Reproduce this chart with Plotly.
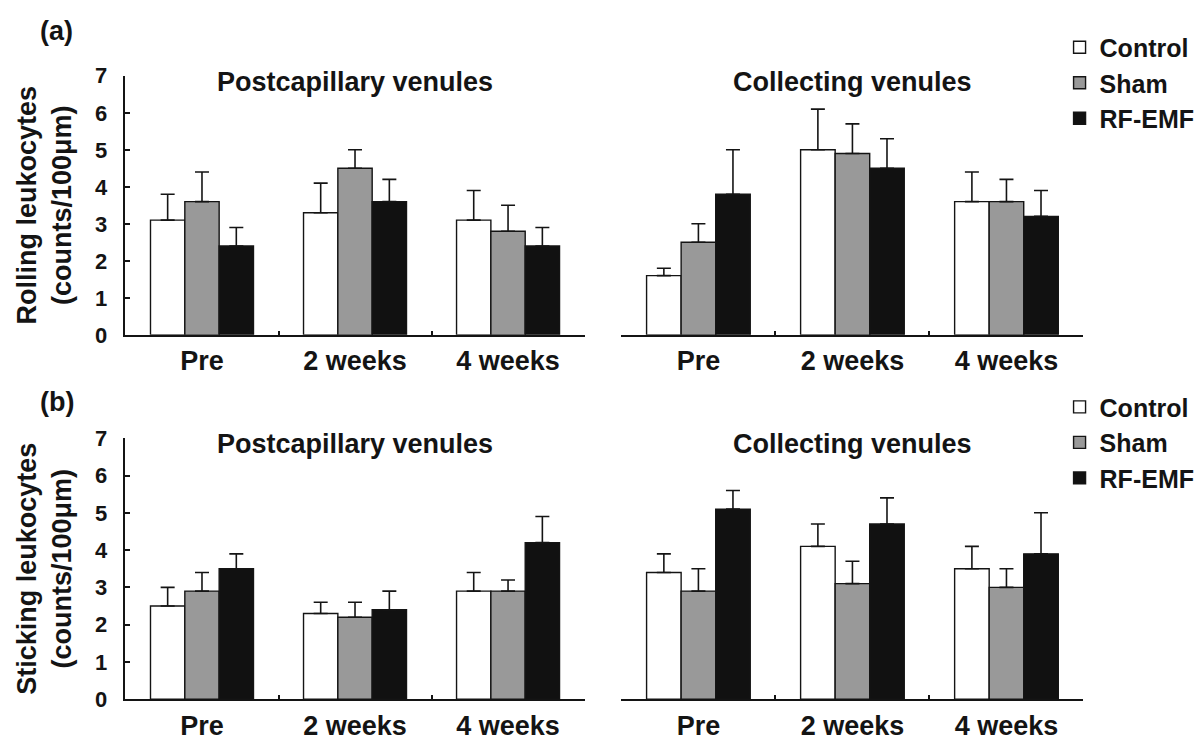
import plotly.graph_objects as go

# Time points and groups
periods = ["Pre", "2 weeks", "4 weeks"]
groups = ["Control", "Sham", "RF-EMF"]

# (a) Rolling leukocytes, postcapillary venules
roll_post_control = [3.1, 3.3, 3.1]
roll_post_control_sd = [0.7, 0.8, 0.8]
roll_post_sham = [3.6, 4.5, 2.8]
roll_post_sham_sd = [0.8, 0.5, 0.7]
roll_post_rf = [2.4, 3.6, 2.4]
roll_post_rf_sd = [0.5, 0.6, 0.5]

# (a) Rolling leukocytes, collecting venules
roll_coll_control = [1.6, 5.0, 3.6]
roll_coll_control_sd = [0.2, 1.1, 0.8]
roll_coll_sham = [2.5, 4.9, 3.6]
roll_coll_sham_sd = [0.5, 0.8, 0.6]
roll_coll_rf = [3.8, 4.5, 3.2]
roll_coll_rf_sd = [1.2, 0.8, 0.7]

# (b) Sticking leukocytes, postcapillary venules
stick_post_control = [2.5, 2.3, 2.9]
stick_post_control_sd = [0.5, 0.3, 0.5]
stick_post_sham = [2.9, 2.2, 2.9]
stick_post_sham_sd = [0.5, 0.4, 0.3]
stick_post_rf = [3.5, 2.4, 4.2]
stick_post_rf_sd = [0.4, 0.5, 0.7]

# (b) Sticking leukocytes, collecting venules
stick_coll_control = [3.4, 4.1, 3.5]
stick_coll_control_sd = [0.5, 0.6, 0.6]
stick_coll_sham = [2.9, 3.1, 3.0]
stick_coll_sham_sd = [0.6, 0.6, 0.5]
stick_coll_rf = [5.1, 4.7, 3.9]
stick_coll_rf_sd = [0.5, 0.7, 1.1]

y_ticks = [0, 1, 2, 3, 4, 5, 6, 7]

W, H = 1200, 748
FONT = "Liberation Sans, Arial, sans-serif"
INK = "#141414"
FILLS = ["#ffffff", "#999999", "#111111"]

panels = [
    # (xaxis, yaxis, legend, series)
    ("x", "y", "legend", [
        (roll_post_control, roll_post_control_sd),
        (roll_post_sham, roll_post_sham_sd),
        (roll_post_rf, roll_post_rf_sd)]),
    ("x2", "y2", None, [
        (roll_coll_control, roll_coll_control_sd),
        (roll_coll_sham, roll_coll_sham_sd),
        (roll_coll_rf, roll_coll_rf_sd)]),
    ("x3", "y3", "legend2", [
        (stick_post_control, stick_post_control_sd),
        (stick_post_sham, stick_post_sham_sd),
        (stick_post_rf, stick_post_rf_sd)]),
    ("x4", "y4", None, [
        (stick_coll_control, stick_coll_control_sd),
        (stick_coll_sham, stick_coll_sham_sd),
        (stick_coll_rf, stick_coll_rf_sd)]),
]

fig = go.Figure()
for xa, ya, leg, series in panels:
    for name, fill, (vals, sd) in zip(groups, FILLS, series):
        fig.add_trace(go.Bar(
            x=periods, y=vals, name=name,
            xaxis=xa, yaxis=ya,
            marker=dict(color=fill, line=dict(color=INK, width=1.4)),
            error_y=dict(type="data", symmetric=False, array=sd,
                         arrayminus=[0] * len(sd),
                         color=INK, thickness=1.6, width=7),
            showlegend=leg is not None,
            legend=leg if leg else "legend",
        ))

def px_x(a, b):
    return [a / W, b / W]

def px_y(bottom, top):
    return [1 - bottom / H, 1 - top / H]

xdom_left = px_x(126, 587)
xdom_right = px_x(624, 1088)
ydom_top = px_y(334, 66)
ydom_bot = px_y(711, 441)

xcommon = dict(
    type="category", range=[-0.5, 2.5], showline=True, linecolor=INK,
    linewidth=1.8, ticks="inside", tickson="boundaries", ticklen=4,
    tickcolor=INK, tickwidth=1.5, showgrid=False, zeroline=False,
    tickfont=dict(family=FONT, size=27, color=INK, weight="bold"),
    ticklabelstandoff=1, fixedrange=True,
)
yleft = dict(
    range=[0, 7], tickvals=y_ticks, showline=True, linecolor=INK,
    linewidth=1.8, ticks="inside", ticklen=5, tickcolor=INK, tickwidth=1.5,
    showgrid=False, zeroline=False,
    tickfont=dict(family=FONT, size=22, color=INK, weight="bold"),
    ticklabelstandoff=12,
)
yright = dict(range=[0, 7], visible=False, showgrid=False, zeroline=False)

title_font = dict(family=FONT, size=27, color=INK, weight="bold")
legend_font = dict(family=FONT, size=25, color=INK, weight="bold")

fig.update_layout(
    width=W, height=H,
    margin=dict(l=0, r=0, t=0, b=0),
    paper_bgcolor="white", plot_bgcolor="white",
    barmode="group", bargap=0.327, bargroupgap=0,
    font=dict(family=FONT, color=INK, weight="bold"),
    xaxis=dict(domain=xdom_left, anchor="y", **xcommon),
    yaxis=dict(domain=ydom_top, anchor="x",
               title=dict(text="Rolling leukocytes<br>(counts/100μm)",
                          font=title_font, standoff=15), **yleft),
    xaxis2=dict(domain=xdom_right, anchor="y2", **xcommon),
    yaxis2=dict(domain=ydom_top, anchor="x2", **yright),
    xaxis3=dict(domain=xdom_left, anchor="y3", **xcommon),
    yaxis3=dict(domain=ydom_bot, anchor="x3",
                title=dict(text="Sticking leukocytes<br>(counts/100μm)",
                           font=title_font, standoff=15), **yleft),
    xaxis4=dict(domain=xdom_right, anchor="y4", **xcommon),
    yaxis4=dict(domain=ydom_bot, anchor="x4", **yright),
    legend=dict(x=1064 / W, y=1 - 13 / H, xanchor="left", yanchor="top",
                font=legend_font, bgcolor="rgba(0,0,0,0)", tracegroupgap=0),
    legend2=dict(x=1064 / W, y=1 - 385 / H, xanchor="left", yanchor="top",
                 font=legend_font, bgcolor="rgba(0,0,0,0)", tracegroupgap=0),
)

# Panel titles and panel letters
ann_font = dict(family=FONT, size=27, color=INK, weight="bold")
for xa, ya_px, text in [("x", 72, "Postcapillary venules"),
                        ("x2", 72, "Collecting venules"),
                        ("x3", 447, "Postcapillary venules"),
                        ("x4", 447, "Collecting venules")]:
    fig.add_annotation(text=text, xref=f"{xa} domain", x=0.5, yref="paper",
                       y=1 - ya_px / H, xanchor="center", yanchor="middle",
                       showarrow=False, font=ann_font)
for letter, cy in [("(a)", 20), ("(b)", 403)]:
    fig.add_annotation(text=letter, xref="paper", x=57 / W, yref="paper",
                       y=1 - cy / H, xanchor="center", yanchor="middle",
                       showarrow=False, font=ann_font)

fig.write_html("out.html")
